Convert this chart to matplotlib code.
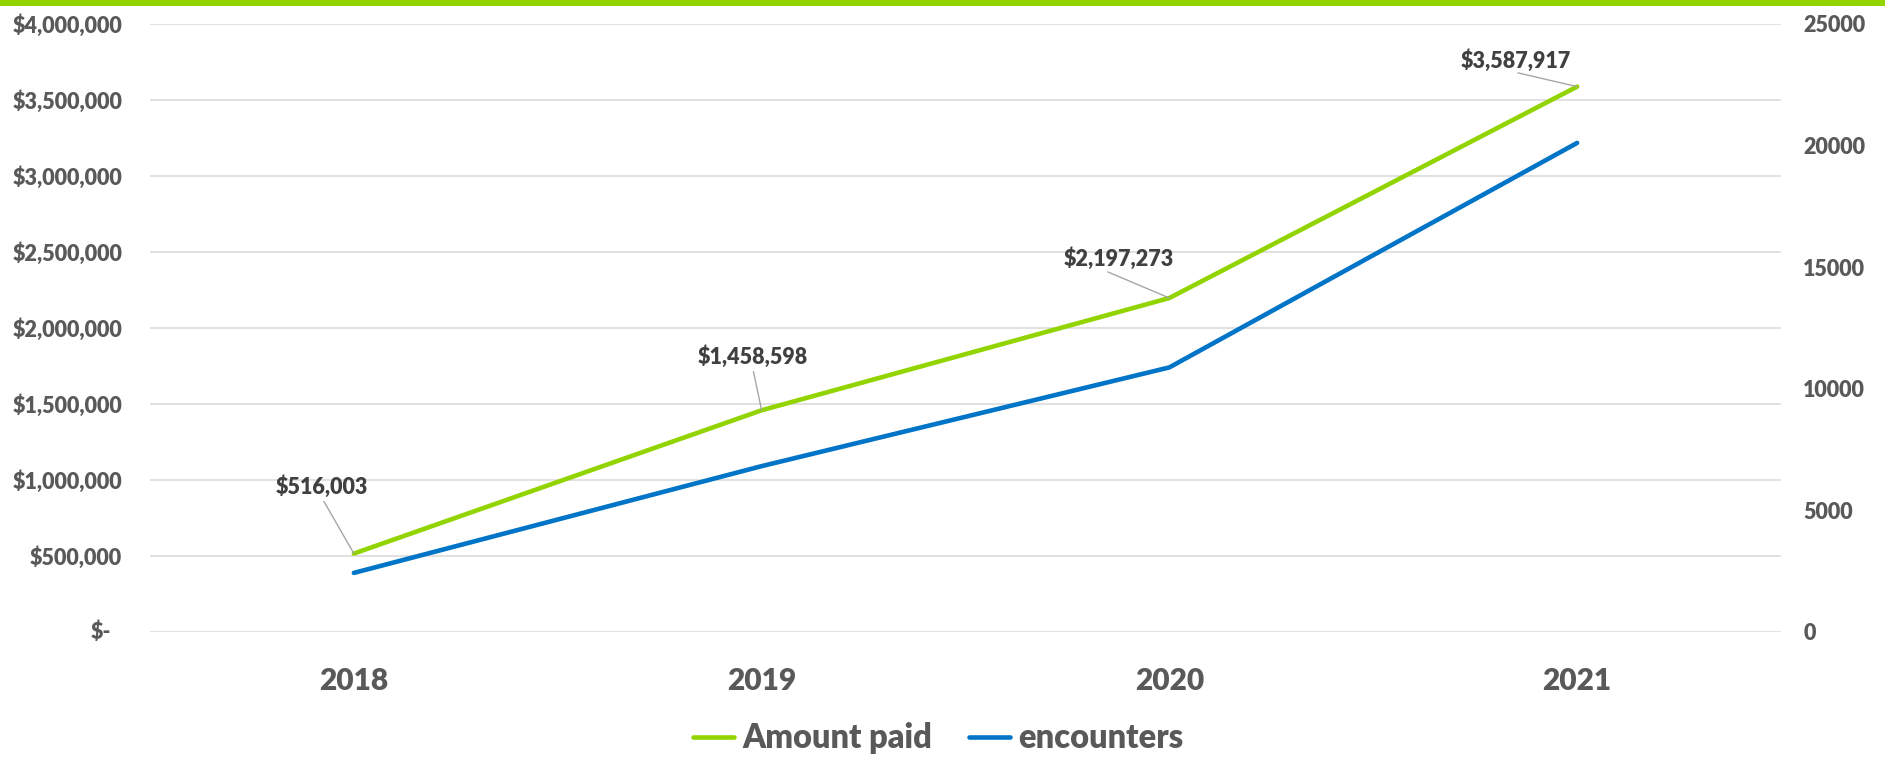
import matplotlib
matplotlib.use("Agg")
import matplotlib.pyplot as plt
from matplotlib.patches import Rectangle
from matplotlib.ticker import FixedLocator
from matplotlib import font_manager as fm

years = ["2018", "2019", "2020", "2021"]
amount_paid = [516003, 1458598, 2197273, 3587917]
encounters = [2430, 6820, 10880, 20110]
left_ticks = [0, 500000, 1000000, 1500000, 2000000, 2500000, 3000000, 3500000, 4000000]
right_ticks = [0, 5000, 10000, 15000, 20000, 25000]

GREEN = "#92D400"
BLUE = "#0074C6"
TICK_C = "#595959"
LABEL_C = "#404040"

font_files = [f.fname for f in fm.fontManager.ttflist
              if f.fname.endswith("Lato-ExtraBold.ttf") or f.fname.endswith("Lato-Heavy.ttf")]
bold_files = [f.fname for f in fm.fontManager.ttflist if f.fname.endswith("Lato-Bold.ttf")]
font_files = font_files + bold_files


def fp(size):
    if font_files:
        return fm.FontProperties(fname=font_files[0], size=size)
    return fm.FontProperties(family=["Lato", "DejaVu Sans"], weight="heavy", size=size)


W, H = 1885, 757
fig = plt.figure(figsize=(W / 100, H / 100), dpi=100)
ax = fig.add_axes([150 / W, 1 - 632 / H, (1781 - 150) / W, (632 - 24) / H])
ax2 = ax.twinx()

x = list(range(len(years)))
ax.plot(x, amount_paid, color=GREEN, lw=3.3, solid_capstyle='round', zorder=3, label="Amount paid")
ax2.plot(x, encounters, color=BLUE, lw=3.3, solid_capstyle='round', zorder=3, label="encounters")

ax.set_xlim(-0.5, len(years) - 0.5)
ax.set_ylim(0, 4000000)
ax2.set_ylim(0, 25000)

ax.set_xticks(x)
ax.yaxis.set_major_locator(FixedLocator(left_ticks))
ax2.yaxis.set_major_locator(FixedLocator(right_ticks))

ax.grid(axis='y', color="#D9D9D9", lw=1.1)
ax.set_axisbelow(True)
for a in (ax, ax2):
    for s in a.spines.values():
        s.set_visible(False)
    a.tick_params(length=0)

ax.tick_params(axis='y', labelcolor=TICK_C, pad=20)
ax.tick_params(axis='x', labelcolor=TICK_C, pad=25)
ax2.tick_params(axis='y', labelcolor=TICK_C, pad=16)

ax.set_xticklabels(years, fontproperties=fp(21.5))
ax.set_yticklabels(["" if v == 0 else "${:,.0f}".format(v) for v in left_ticks], fontproperties=fp(15.5))
ax2.set_yticklabels(["{:.0f}".format(v) for v in right_ticks], fontproperties=fp(15.5))

# "$-" label (accounting format, set in from the others)
ax.annotate("$-", xy=(0, 0), xycoords=('axes fraction', 'data'),
            xytext=(-39, 0), textcoords='offset pixels',
            ha='right', va='center', fontproperties=fp(15.5), color=TICK_C)

# data labels with leader lines
offsets = [(-32, 67), (-9, 54), (-51, 39), (-61, 26)]
relx = [0.5, 0.5, 0.37, 0.48]
for i, v in enumerate(amount_paid):
    ax.annotate("${:,.0f}".format(v), xy=(x[i], v), xytext=offsets[i], textcoords='offset pixels',
                ha='center', va='center', fontproperties=fp(15.5), color=LABEL_C, zorder=5,
                arrowprops=dict(arrowstyle='-', color="#A6A6A6", lw=1.0, shrinkA=3, shrinkB=0,
                                relpos=(relx[i], 0), patchA=None))

h1, l1 = ax.get_legend_handles_labels()
h2, l2 = ax2.get_legend_handles_labels()
leg = fig.legend(h1 + h2, l1 + l2, loc='center', bbox_to_anchor=(938 / W, 1 - 738 / H), ncol=2,
                 frameon=False, prop=fp(23.5), handlelength=1.26, handletextpad=0.25,
                 columnspacing=1.13, borderaxespad=0, borderpad=0)
for t in leg.get_texts():
    t.set_color(TICK_C)

fig.patches.append(Rectangle((0, 1 - 6 / H), 1, 6 / H, transform=fig.transFigure,
                             facecolor=GREEN, edgecolor='none'))

fig.savefig("out.png", dpi=100, facecolor='white')
